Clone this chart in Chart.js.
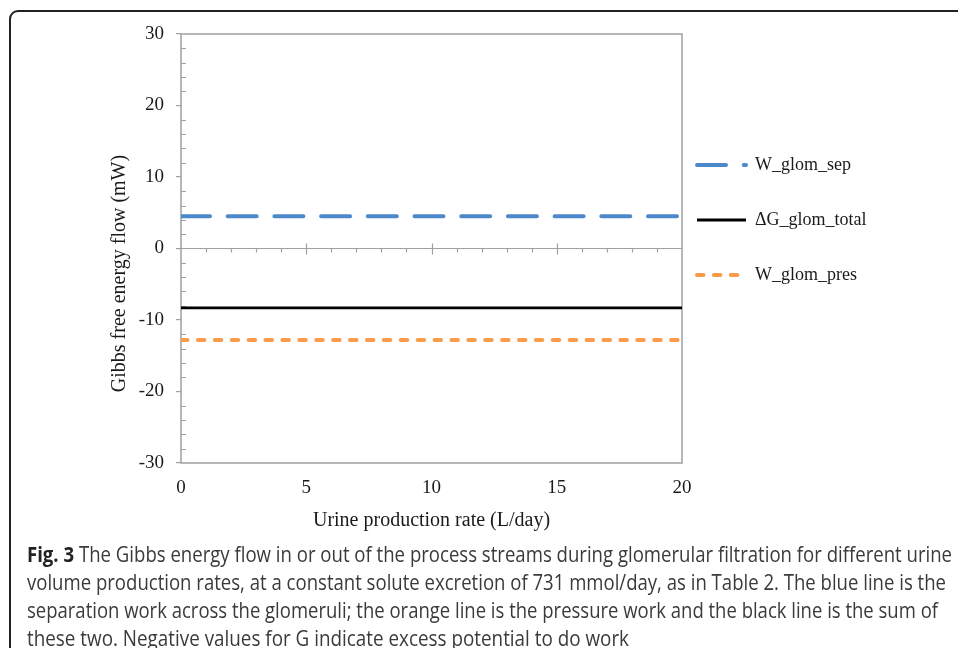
<!DOCTYPE html>
<html>
<head>
<meta charset="utf-8">
<script src="https://cdn.jsdelivr.net/npm/chart.js@4.4.1/dist/chart.umd.min.js"></script>
<style>
html,body{margin:0;padding:0;background:#fff;}
#wrap{position:relative;width:958px;height:648px;overflow:hidden;}
#c{position:absolute;left:0;top:0;}
#frame{position:absolute;left:9px;top:10px;width:1000px;height:700px;border:2px solid #222;border-radius:9px;box-sizing:border-box;}
.cap{position:absolute;left:27px;white-space:nowrap;font-family:"Open Sans",sans-serif;font-size:21px;line-height:28px;color:#3a3a3a;transform-origin:0 0;}
.cap b{color:#222;}
</style>
</head>
<body>
<div id="wrap">
<canvas id="c" width="958" height="648"></canvas>
<div id="frame"></div>
<div class="cap" data-w="925" style="top:540px"><b>Fig. 3</b> The Gibbs energy flow in or out of the process streams during glomerular filtration for different urine</div>
<div class="cap" data-w="919" style="top:568px">volume production rates, at a constant solute excretion of 731 mmol/day, as in Table 2. The blue line is the</div>
<div class="cap" data-w="911" style="top:596px">separation work across the glomeruli; the orange line is the pressure work and the black line is the sum of</div>
<div class="cap" data-w="602" style="top:624px">these two. Negative values for G indicate excess potential to do work</div>
</div>
<script>
// chart data
const urineRate = [0, 5, 10, 15, 20];
const wGlomSep = [4.5, 4.5, 4.5, 4.5, 4.5];
const dGGlomTotal = [-8.3, -8.3, -8.3, -8.3, -8.3];
const wGlomPres = [-12.8, -12.8, -12.8, -12.8, -12.8];
const seriesNames = ['W_glom_sep', '\u0394G_glom_total', 'W_glom_pres'];
const yRange = [-30, 30];
const xRange = [0, 20];

const serif = '"Liberation Serif", "Times New Roman", serif';
const axisGrey = '#a0a0a0';

function pts(ys){ return ys.map((y, i) => ({x: urineRate[i], y: y})); }

// frame, zero axis with ticks, minor ticks
const framePlugin = {
  id: 'frame',
  beforeDatasetsDraw(chart){
    const ctx = chart.ctx, a = chart.chartArea;
    const xs = chart.scales.x, ys = chart.scales.y;
    ctx.save();
    ctx.strokeStyle = axisGrey;
    ctx.lineWidth = 1.5;
    ctx.strokeRect(a.left, a.top, a.right - a.left, a.bottom - a.top);
    // minor ticks on y axis (inside)
    ctx.lineWidth = 1.2;
    ctx.beginPath();
    for (let v = yRange[0] + 2; v < yRange[1]; v += 2) {
      if (v % 10 === 0) continue;
      const py = Math.round(ys.getPixelForValue(v)) + 0.5;
      ctx.moveTo(a.left, py); ctx.lineTo(a.left + 5, py);
    }
    // horizontal axis at zero
    const y0 = ys.getPixelForValue(0);
    ctx.moveTo(a.left, y0); ctx.lineTo(a.right, y0);
    for (let v = xRange[0] + 1; v < xRange[1]; v++) {
      const px = Math.round(xs.getPixelForValue(v)) + 0.5;
      if (v % 5 === 0) { ctx.moveTo(px, y0 - 5); ctx.lineTo(px, y0 + 6); }
      else { ctx.moveTo(px, y0); ctx.lineTo(px, y0 + 4); }
    }
    ctx.stroke();
    ctx.restore();
  },
  afterLayout(chart){
    const lg = chart.legend;
    const w = lg.width, h = lg.height;
    lg.left = 660; lg.top = 119;
    lg.right = lg.left + w; lg.bottom = lg.top + h;
  }
};

new Chart(document.getElementById('c'), {
  type: 'line',
  data: {
    datasets: [
      {label: seriesNames[0], data: pts(wGlomSep), borderColor: '#4d88ca', backgroundColor: '#4d88ca',
       borderWidth: 4, borderDash: [29, 17.7], borderCapStyle: 'round', pointRadius: 0},
      {label: seriesNames[1], data: pts(dGGlomTotal), borderColor: '#000', backgroundColor: '#000',
       borderWidth: 2.8, borderCapStyle: 'butt', pointRadius: 0},
      {label: seriesNames[2], data: pts(wGlomPres), borderColor: '#f89b4a', backgroundColor: '#f89b4a',
       borderWidth: 4, borderDash: [6.5, 10.4], borderCapStyle: 'round', pointRadius: 0}
    ]
  },
  options: {
    responsive: false,
    animation: false,
    layout: {padding: {left: 100, right: 276, top: 34, bottom: 108}},
    plugins: {
      tooltip: {enabled: false},
      legend: {
        position: 'chartArea',
        align: 'start',
        labels: {
          usePointStyle: true,
          pointStyle: 'line',
          pointStyleWidth: 49,
          padding: 37,
          color: '#1a1a1a',
          font: {family: serif, size: 18},
          generateLabels: chart => Chart.defaults.plugins.legend.labels.generateLabels(chart).map((item, i) => {
            const ds = chart.data.datasets[i];
            return Object.assign(item, {
              lineDash: ds.borderDash || [], lineWidth: ds.borderWidth, strokeStyle: ds.borderColor,
              lineCap: ds.borderCapStyle, rotation: 180, pointStyle: 'line'
            });
          })
        }
      }
    },
    scales: {
      x: {
        type: 'linear', position: 'bottom', min: xRange[0], max: xRange[1],
        afterFit: s => { s.height = 77; },
        grid: {display: false, drawTicks: false},
        border: {display: false},
        ticks: {stepSize: 5, padding: 14, color: '#1a1a1a', font: {family: serif, size: 19}},
        title: {display: true, text: 'Urine production rate (L/day)', color: '#1a1a1a',
                font: {family: serif, size: 20}, padding: {top: 0, bottom: 7}}
      },
      y: {
        type: 'linear', min: yRange[0], max: yRange[1],
        afterFit: s => { s.width = 81; },
        grid: {drawOnChartArea: false, drawTicks: true, tickLength: 5, color: axisGrey, lineWidth: 1.2},
        border: {display: false},
        ticks: {stepSize: 10, padding: 12, color: '#1a1a1a', font: {family: serif, size: 19}},
        // trailing spaces move the centred title down, as in the figure
        title: {display: true, text: 'Gibbs free energy flow (mW)          ', color: '#1a1a1a',
                font: {family: serif, size: 20}, padding: {top: 8, bottom: 0}}
      }
    }
  },
  plugins: [framePlugin]
});

// fit caption lines to the measured widths of the figure
document.querySelectorAll('.cap').forEach(el => {
  const w = el.getBoundingClientRect().width;
  el.style.transform = 'scaleX(' + (el.dataset.w / w) + ')';
});
</script>
</body>
</html>
